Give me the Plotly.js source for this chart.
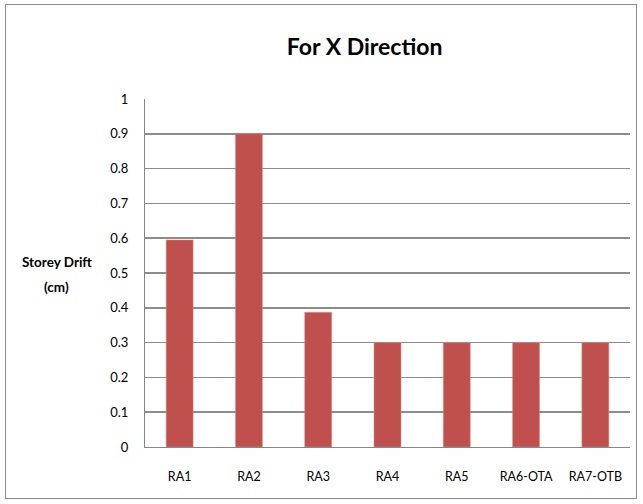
<!DOCTYPE html>
<html><head><meta charset="utf-8">
<script src="https://cdn.plot.ly/plotly-3.0.1.min.js"></script>
<style>
html,body{margin:0;padding:0;background:#fff;}
#wrap{position:relative;width:643px;height:504px;overflow:hidden;}
#chart{position:absolute;left:0;top:0;width:643px;height:504px;}
#frame{position:absolute;left:5px;top:4px;width:630px;height:493px;border:1px solid #8c8c8c;pointer-events:none;}
</style></head>
<body><div id="wrap"><div id="chart"></div><div id="frame"></div></div>
<script>
const categories = ["RA1","RA2","RA3","RA4","RA5","RA6-OTA","RA7-OTB"];
const drift = [0.595, 0.9, 0.387, 0.3, 0.3, 0.3, 0.3];
const yTicks = [0,0.1,0.2,0.3,0.4,0.5,0.6,0.7,0.8,0.9,1];
const yTickText = ["0","0.1","0.2","0.3","0.4","0.5","0.6","0.7","0.8","0.9","1"];
const yTitleLines = ["Storey Drift","(cm)"];
const fnt = "Lato, 'Open Sans', sans-serif";
Plotly.newPlot('chart', [{
  type:'bar', x:categories, y:drift,
  marker:{color:'#C0504D', line:{color:'#D99694', width:0.5}},
  width:0.39, hoverinfo:'none'
}], {
  width:643, height:504,
  margin:{l:145, r:13, t:99, b:57},
  paper_bgcolor:'#fff', plot_bgcolor:'#fff',
  showlegend:false,
  title:{text:'<b>For X Direction</b>', font:{family:fnt, size:23, color:'#000'}, x:0.567, xanchor:'center', y:0.906, yanchor:'middle'},
  xaxis:{showgrid:false, showline:true, linecolor:'#868686', linewidth:1, ticks:'', tickfont:{family:fnt, size:12.5, color:'#000'}, ticklabelstandoff:18},
  yaxis:{range:[0,1], tickvals:yTicks, ticktext:yTickText, showgrid:true, gridcolor:'#8c8c8c', gridwidth:1.5, showline:true, linecolor:'#868686', zeroline:false, ticks:'', tickfont:{family:fnt, size:13, color:'#000'}, ticklabelstandoff:13},
  annotations:[
    {text:'<b>'+yTitleLines[0]+'</b>', xref:'paper', yref:'paper', x:-0.182, y:0.532, xanchor:'center', yanchor:'middle', showarrow:false, font:{family:fnt, size:13.5, color:'#000'}},
    {text:'<b>'+yTitleLines[1]+'</b>', xref:'paper', yref:'paper', x:-0.182, y:0.46, xanchor:'center', yanchor:'middle', showarrow:false, font:{family:fnt, size:13.5, color:'#000'}}
  ]
}, {staticPlot:true});
</script></body></html>
